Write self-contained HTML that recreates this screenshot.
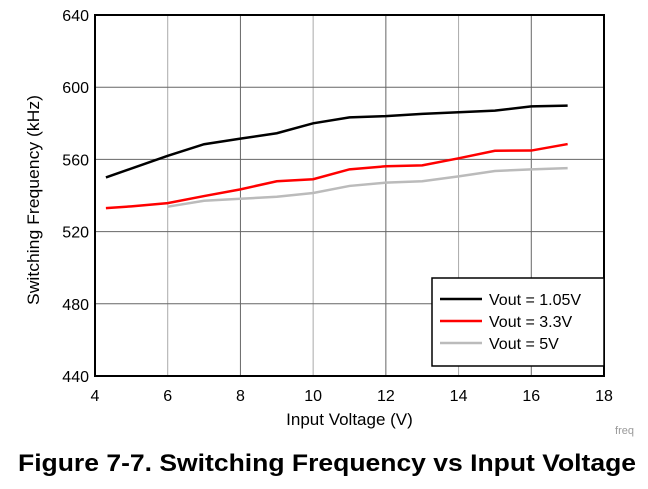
<!DOCTYPE html>
<html><head><meta charset="utf-8"><style>
body{margin:0;background:#fff;width:648px;height:484px;overflow:hidden;font-family:"Liberation Sans",Arial,sans-serif}
</style></head><body>
<svg width="648" height="484" id="c" font-family="Liberation Sans, Arial, sans-serif"></svg>
<script>
const xTicks=[4,6,8,10,12,14,16,18];
const yTicks=[440,480,520,560,600,640];
const v105x=[4.3,6,7,8,9,10,11,12,13,14,15,16,17];
const v105y=[550,562,568.4,571.5,574.5,580,583.3,584,585.2,586.1,587,589.4,589.8];
const v33x=[4.3,5,6,7,8,9,10,11,12,13,14,15,16,17];
const v33y=[533,534,535.8,539.7,543.4,547.9,549,554.5,556.2,556.7,560.6,564.8,564.9,568.5];
const v5x=[6,7,8,9,10,11,12,13,14,15,16,17];
const v5y=[533.8,537.1,538.2,539.3,541.4,545.3,547.1,547.9,550.6,553.6,554.5,555.2];
const L=95,R=604,T=15,B=376;
const X=v=>L+(v-4)/(18-4)*(R-L);
const Y=v=>B-(v-440)/(640-440)*(B-T);
const svg=document.getElementById('c');const NS='http://www.w3.org/2000/svg';
function mk(t,a,txt){const e=document.createElementNS(NS,t);for(const k in a)e.setAttribute(k,a[k]);if(txt!=null)e.textContent=txt;svg.appendChild(e);return e;}
xTicks.forEach((t,i)=>{if(i>0&&i<xTicks.length-1){const e=mk('line',{x1:X(t),x2:X(t),y1:T,y2:B,stroke:i%2?'#aaa':'#666','stroke-width':1});

}
const l=mk('text',{x:X(t),y:B+25,'text-anchor':'middle','font-size':16},t);

});
yTicks.forEach((t,i)=>{if(i>0&&i<yTicks.length-1){const e=mk('line',{x1:L,x2:R,y1:Y(t),y2:Y(t),stroke:'#666','stroke-width':1});

}
const l=mk('text',{x:L-6,y:Y(t)+6,'text-anchor':'end','font-size':16},t);

});
const fr=mk('rect',{x:L,y:T,width:R-L,height:B-T,fill:'none',stroke:'#000','stroke-width':2});


function line(xs,ys,col,name){const p=mk('polyline',{points:xs.map((x,i)=>X(x)+','+Y(ys[i])).join(' '),fill:'none',stroke:col,'stroke-width':2.5});

}
line(v5x,v5y,'#bbb','series-vout-5v');
line(v33x,v33y,'#f00','series-vout-3-3v');
line(v105x,v105y,'#000','series-vout-1-05v');
const lg=mk('rect',{x:432,y:278,width:172,height:88,fill:'#fff',stroke:'#000','stroke-width':1.5});


[['Vout = 1.05V','#000'],['Vout = 3.3V','#f00'],['Vout = 5V','#bbb']].forEach((d,i)=>{const y=299+i*22;
const s=mk('line',{x1:440,x2:482,y1:y,y2:y,stroke:d[1],'stroke-width':2.5});


const t=mk('text',{x:489,y:y+6,'font-size':16},d[0]);

});
const xt=mk('text',{x:(L+R)/2,y:425,'text-anchor':'middle','font-size':17},'Input Voltage (V)');


const yt=mk('text',{x:0,y:0,'text-anchor':'middle','font-size':17,textLength:210,lengthAdjust:'spacingAndGlyphs',transform:'translate(39,200) rotate(-90)'},'Switching Frequency (kHz)');


const fq=mk('text',{x:634,y:434,'text-anchor':'end','font-size':11,fill:'#999'},'freq');


const cap=mk('text',{x:18,y:471,'font-size':24,'font-weight':'bold',textLength:618,lengthAdjust:'spacingAndGlyphs'},'Figure 7-7. Switching Frequency vs Input Voltage');


</script>
</body></html>
